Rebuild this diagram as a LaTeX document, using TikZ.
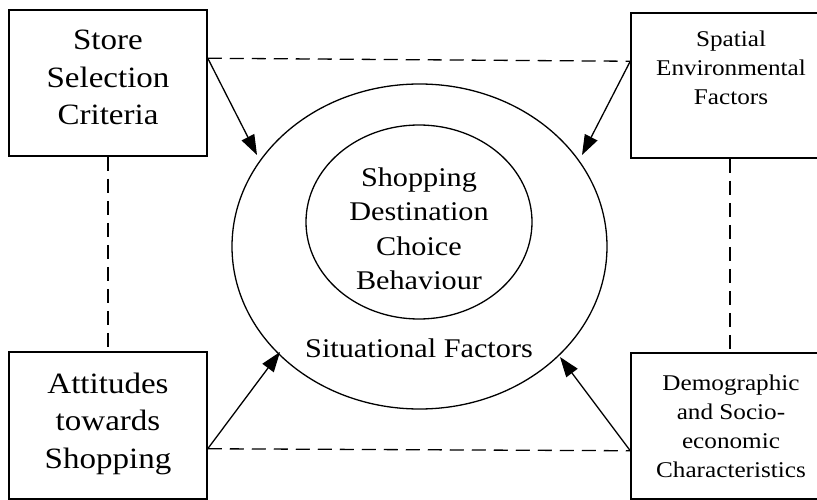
\documentclass[tikz,border=0pt]{standalone}
\usepackage{fontspec}
\usepackage{graphicx}
\setmainfont{Liberation Serif}
\usetikzlibrary{arrows.meta,shapes.geometric}
\newcommand\mylines[1]{\scalebox{1.12}[1]{\begin{tabular}[t]{@{}c@{}}#1\end{tabular}}}
\begin{document}
\begin{tikzpicture}[x=1pt,y=-1pt,
  box/.style={draw, line width=1.5pt, minimum width=198pt, minimum height=146pt, inner sep=0pt},
  big/.style={font=\fontsize{29.5}{37.5}\selectfont, anchor=base, inner sep=0pt},
  small/.style={font=\fontsize{22.5}{29}\selectfont, anchor=base, inner sep=0pt},
  mid/.style={font=\fontsize{27}{34.3}\selectfont, anchor=base, inner sep=0pt},
  link/.style={line width=1.3pt, dash pattern=on 14pt off 8pt},
  arr/.style={line width=1.3pt, -{Triangle[length=20pt,width=14pt]}},
  oval/.style={draw, ellipse, line width=1.3pt, inner sep=0pt}]
\useasboundingbox (0,0) rectangle (817,500);
% boxes
\node[box] (tl) at (108,83) {};
\node[box, minimum height=147pt] (bl) at (108,425.5) {};
\node[box, minimum height=145pt] (tr) at (730,85.5) {};
\node[box, minimum height=146pt] (br) at (730,426) {};
% box texts
\node[big] (tlt) at (108,50) {\mylines{Store\\Selection\\Criteria}};
\node[big] (blt) at (108,393) {\mylines{Attitudes\\towards\\Shopping}};
\node[small] (trt) at (731,47) {\mylines{Spatial\\Environmental\\Factors}};
\node[small] (brt) at (731,390) {\mylines{Demographic\\and Socio-\\economic\\Characteristics}};
% ellipses
\node[oval, minimum width=375pt, minimum height=325pt] (outer) at (419.5,246.5) {};
\node[oval, minimum width=226pt, minimum height=194pt] (inner) at (419,222) {};
\node[mid] (ct) at (419,186.5) {\mylines{Shopping\\Destination\\Choice\\Behaviour}};
\node[mid] (sf) at (419,357) {\mylines{Situational Factors}};
% connection points
\coordinate (p1) at ([yshift=-49pt]tl.north east);
\coordinate (p2) at ([yshift=-49pt]tr.north west);
\coordinate (p3) at ([yshift=51pt]bl.south east);
\coordinate (p4) at ([yshift=49pt]br.south west);
\coordinate (t1) at (257,155);
\coordinate (t2) at (582,155);
\coordinate (t3) at (280,352);
\coordinate (t4) at (560,357);
% dashed links
\draw[link] (p1) -- (p2);
\draw[link] (p3) -- (p4);
\draw[link] (tl.south) -- (bl.north);
\draw[link] (tr.south) -- (br.north);
% arrows
\draw[arr] (p1) -- (t1);
\draw[arr] (p2) -- (t2);
\draw[arr] (p3) -- (t3);
\draw[arr] (p4) -- (t4);
\end{tikzpicture}
\end{document}
